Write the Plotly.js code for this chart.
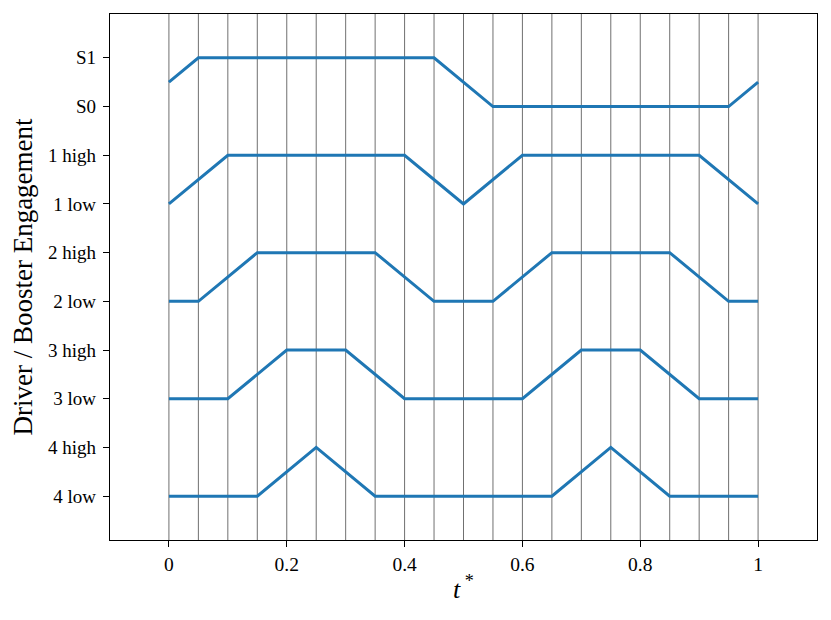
<!DOCTYPE html>
<html>
<head>
<meta charset="utf-8">
<script src="https://cdn.plot.ly/plotly-3.0.1.min.js"></script>
<style>
  html,body{margin:0;padding:0;background:#fff}
  #chart{width:831px;height:620px}
</style>
</head>
<body>
<div id="chart"></div>
<script>
// engagement levels, bottom to top
const levelLabels=['4 low','4 high','3 low','3 high','2 low','2 high','1 low','1 high','S0','S1'];
const levelVals=[0,1,2,3,4,5,6,7,8,9];

// breakpoints of each trace (t*, level)
const sT=[0,0.05,0.45,0.55,0.95,1];
const sY=[8.5,9,9,8,8,8.5];
const d1T=[0,0.1,0.4,0.5,0.6,0.9,1];
const d1Y=[6,7,7,6,7,7,6];
const d2T=[0,0.05,0.15,0.35,0.45,0.55,0.65,0.85,0.95,1];
const d2Y=[4,4,5,5,4,4,5,5,4,4];
const d3T=[0,0.1,0.2,0.3,0.4,0.6,0.7,0.8,0.9,1];
const d3Y=[2,2,3,3,2,2,3,3,2,2];
const d4T=[0,0.15,0.25,0.35,0.65,0.75,0.85,1];
const d4Y=[0,0,1,0,0,1,0,0];

// vertical guide lines every 0.05
const tGrid=[0,0.05,0.1,0.15,0.2,0.25,0.3,0.35,0.4,0.45,0.5,0.55,0.6,0.65,0.7,0.75,0.8,0.85,0.9,0.95,1];
const xTicks=[0,0.2,0.4,0.6,0.8,1];
const xTickText=['0','0.2','0.4','0.6','0.8','1'];

const blue='#1f77b4';
const FONT='"Liberation Serif","DejaVu Serif",serif';

const series=[[sT,sY],[d1T,d1Y],[d2T,d2Y],[d3T,d3Y],[d4T,d4Y]];
const data=series.map(([x,y])=>({
  type:'scatter',mode:'lines',x,y,
  line:{color:blue,width:3},
  hoverinfo:'skip',showlegend:false
}));

const shapes=tGrid.map(t=>({
  type:'line',xref:'x',yref:'paper',x0:t,x1:t,y0:0,y1:1,
  line:{color:'rgba(30,30,30,0.8)',width:0.8},layer:'below'
}));

const layout={
  width:831,height:620,
  margin:{l:110,r:14,t:14,b:80},
  paper_bgcolor:'#fff',plot_bgcolor:'#fff',
  font:{family:FONT,size:19,color:'#000'},
  showlegend:false,
  shapes,
  xaxis:{
    range:[-0.1,1.1],
    tickvals:xTicks,ticktext:xTickText,
    ticks:'outside',ticklen:6,tickwidth:1,tickcolor:'#000',
    showgrid:false,zeroline:false,
    showline:true,linecolor:'#000',linewidth:1.2,mirror:true,
    tickfont:{family:FONT,size:19.5},
    title:{text:'<i>t</i><sup> *</sup>',font:{family:FONT,size:26},standoff:6}
  },
  yaxis:{
    range:[-0.9,9.9],
    tickvals:levelVals,ticktext:levelLabels,
    ticks:'outside',ticklen:6,tickwidth:1,tickcolor:'#000',
    ticklabelstandoff:3,
    showgrid:false,zeroline:false,
    showline:true,linecolor:'#000',linewidth:1.2,mirror:true,
    tickfont:{family:FONT,size:19},
    title:{text:'Driver / Booster Engagement',font:{family:FONT,size:27},standoff:7}
  }
};

Plotly.newPlot('chart',data,layout,{displayModeBar:false,staticPlot:true});
</script>
</body>
</html>
